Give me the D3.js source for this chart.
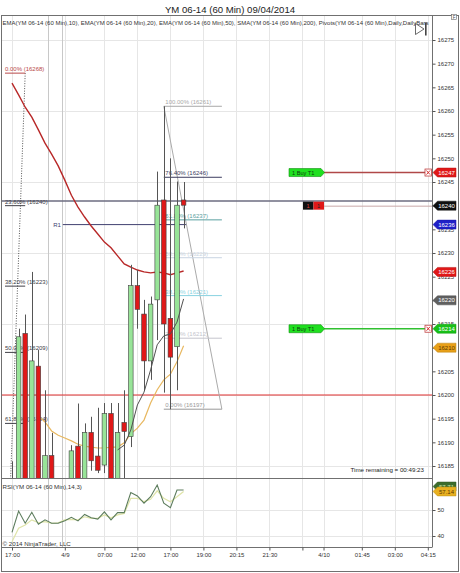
<html>
<script src='https://d3js.org/d3.v7.min.js'></script>
<style>
  body { margin: 0; background: #fff; }
  text { font-family: "Liberation Sans", Arial, sans-serif; }
</style>
<body>
<svg width=460 height=573></svg>
<script>
// ---- data ----
var open  = [16176, 16179, 16213, 16180, 16206.1, 16178, 16187.2, 16179, 16175, 16179, 16189.2, 16180, 16192.1, 16187.1, 16185.2, 16196.1, 16181, 16194.2, 16191.2, 16223.1, 16217.1, 16207.2, 16220.1, 16241.2, 16216.2, 16210.2, 16241.2];
var high  = [16186, 16214, 16217, 16226, 16209.5, 16201, 16192, 16181, 16180, 16189.4, 16198.2, 16194, 16195.4, 16197.3, 16198.3, 16198.3, 16198.3, 16201, 16227.5, 16226.4, 16220.1, 16220.8, 16247.2, 16261, 16250, 16245.1, 16245];
var low   = [16172, 16176, 16176, 16178, 16176, 16175, 16176, 16172, 16170, 16176, 16178, 16178, 16184, 16183.5, 16183.5, 16180, 16179, 16180, 16189, 16214, 16201, 16203.2, 16211.6, 16200.5, 16197, 16201, 16235.2];
var close = [16180, 16212.3, 16180, 16207.2, 16178, 16187.2, 16179, 16175, 16178, 16188.2, 16180, 16192.1, 16186.1, 16184.1, 16196.1, 16182, 16192.1, 16192.3, 16223.1, 16218.1, 16207.2, 16219.2, 16240.1, 16215, 16208, 16240.1, 16240.1];

var ema50 = [16265.9, 16263.4, 16260.8, 16258.7, 16256.0, 16253.2, 16250.9, 16248.4, 16245.4, 16242.2, 16239.7, 16237.6, 16235.7, 16234.0, 16232.3, 16231.1, 16229.4, 16227.7, 16227.0, 16226.4, 16226.0, 16225.8, 16226.0, 16225.8, 16225.4, 16225.8, 16226.2];
var ema20Start = 4;
var ema20 = [16195.6, 16194.3, 16192.4, 16191.5, 16190.9, 16190.3, 16189.6, 16189.2, 16189.0, 16188.8, 16188.8, 16189.0, 16189.0, 16189.9, 16191.8, 16193.0, 16194.7, 16198.3, 16201.1, 16203.2, 16204.4, 16207.0, 16210.4];
var ema10Start = 16;
var ema10 = [16188.4, 16189.4, 16192.6, 16197.9, 16200.6, 16205.3, 16210.6, 16212.5, 16212.9, 16215.4, 16220.3];

var rsi       = [41.4, 49.6, 44.9, 49.1, 44.5, 46.2, 44.9, 44.9, 45.9, 47.2, 45.8, 48.3, 47.0, 46.5, 49.3, 46.2, 49.0, 49.0, 56.7, 55.4, 52.6, 55.1, 59.6, 52.6, 50.9, 57.7, 57.7];
var rsiSmooth = [37.8, 43.0, 44.2, 46.2, 45.1, 45.5, 44.9, 45.1, 46.2, 46.4, 46.2, 47.4, 46.8, 46.8, 48.1, 47.0, 48.1, 48.7, 54.5, 54.5, 53.2, 54.1, 57.4, 54.5, 53.2, 55.1, 57.1];

var timeLabels = ["17:00", "4/9", "07:00", "12:00", "17:00", "19:00", "20:15", "21:30", "", "4/10", "01:45", "03:00", "04:15"];
var timeIdx    = [0, 8, 14, 19, 24, 29, 34, 39, 44, 47.2, 53, 58, 63];

// left fibonacci retracement
var fibLeftPct    = ["0.00%", "23.60%", "38.20%", "50.00%", "61.80%"];
var fibLeftPrice  = [16268, 16240, 16223, 16209, 16194];
var fibLeftColor  = ["#b84848", "#404048", "#404048", "#404048", "#404048"];
// right fibonacci retracement
var fibRightPct   = ["100.00%", "76.40%", "61.80%", "50.00%", "38.20%", "23.60%", "0.00%"];
var fibRightPrice = [16261, 16246, 16237, 16229, 16221, 16212, 16197];
var fibRightColor = ["#a8a8a8", "#3c3c60", "#5aa0a0", "#c8d4e2", "#88d2e0", "#c4c4cc", "#999999"];

// price axis markers
var markerPrice = [16247, 16240, 16236, 16226, 16220, 16214, 16210];
var markerText  = ["16247", "16240", "16236", "16226", "16220", "16214", "16210"];
var markerColor = ["#e01818", "#101010", "#2020c8", "#e01818", "#606060", "#18c018", "#e8a018"];

var orderPrice = [16247, 16214];
var orderText  = ["1  Buy T1", "1  Buy T1"];
var orderLine  = ["#b04848", "#30c030"];

// ---- scales ----
var x  = d3.scaleLinear().domain([0, 63]).range([12, 427.8]);
var y  = d3.scaleLinear().domain([16185, 16275]).range([466, 40]);
var yR = d3.scaleLinear().domain([40, 50]).range([536, 510]);

var L = 2, R = 432, T = 15.5, B = 478, RB = 547;
var svg = d3.select('svg');

// clip for main panel
svg.append('defs').append('clipPath').attr('id', 'mainclip')
  .append('rect').attr('x', L).attr('y', T).attr('width', R - L).attr('height', B - T);
svg.select('defs').append('clipPath').attr('id', 'rsiclip')
  .append('rect').attr('x', L).attr('y', B).attr('width', R - L).attr('height', RB - B);

// title
svg.append('text').attr('x', 230).attr('y', 12.5).attr('text-anchor', 'middle')
  .style('font-size', '9.6px').attr('fill', '#222').text('YM 06-14 (60 Min)  09/04/2014');

// grid
var grid = svg.append('g').attr('stroke', '#e6e6e6').attr('stroke-width', 1);
d3.range(16185, 16276, 15).forEach(function(p) {
  grid.append('line').attr('x1', L).attr('x2', R).attr('y1', Math.round(y(p)) + 0.5).attr('y2', Math.round(y(p)) + 0.5);
});
[40, 50].forEach(function(v) {
  grid.append('line').attr('x1', L).attr('x2', R).attr('y1', Math.round(yR(v)) + 0.5).attr('y2', Math.round(yR(v)) + 0.5);
});
timeIdx.forEach(function(i) {
  grid.append('line').attr('x1', Math.round(x(i)) + 0.5).attr('x2', Math.round(x(i)) + 0.5).attr('y1', T).attr('y2', RB);
});
// session break lines
[5, 7 ].forEach(function(i) {
  svg.append('line').attr('x1', Math.round(x(i + 0.5)) + 0.5).attr('x2', Math.round(x(i + 0.5)) + 0.5)
    .attr('y1', T).attr('y2', RB).attr('stroke', '#c8c8c8');
});

var main = svg.append('g').attr('clip-path', 'url(#mainclip)');

// long horizontal lines
main.append('line').attr('x1', L).attr('x2', R).attr('y1', y(16241)).attr('y2', y(16241))
  .attr('stroke', '#6c6c80').attr('stroke-width', 1.5);
main.append('line').attr('x1', L).attr('x2', R).attr('y1', y(16200)).attr('y2', y(16200))
  .attr('stroke', '#e03030').attr('stroke-width', 1.2);

// pivot R1
main.append('line').attr('x1', x(7.7)).attr('x2', x(26.5)).attr('y1', y(16236)).attr('y2', y(16236))
  .attr('stroke', '#404070').attr('stroke-width', 1);
main.append('text').attr('x', x(7.7) - 2).attr('y', y(16236) + 2).attr('text-anchor', 'end')
  .style('font-size', '6px').attr('fill', '#404070').text('R1');

// left fib
main.append('line').attr('x1', x(2)).attr('y1', y(16268)).attr('x2', x(-1.06)).attr('y2', y(16149.4))
  .attr('stroke', '#555').attr('stroke-dasharray', '1,1.5');
fibLeftPrice.forEach(function(p, k) {
  main.append('line').attr('x1', x(-1.06)).attr('x2', x(2)).attr('y1', y(p)).attr('y2', y(p))
    .attr('stroke', fibLeftColor[k]).attr('stroke-width', 1);
  main.append('text').attr('x', x(-1.06)).attr('y', y(p) - 2).style('font-size', '6px')
    .attr('fill', fibLeftColor[k]).text(fibLeftPct[k] + ' (' + p + ')');
});

// right fib
main.append('line').attr('x1', x(23)).attr('y1', y(16261)).attr('x2', x(31.8)).attr('y2', y(16197))
  .attr('stroke', '#aaa');
fibRightPrice.forEach(function(p, k) {
  main.append('line').attr('x1', x(23)).attr('x2', x(31.8)).attr('y1', y(p)).attr('y2', y(p))
    .attr('stroke', fibRightColor[k]).attr('stroke-width', 1);
  main.append('text').attr('x', x(23) + 1.5).attr('y', y(p) - 2).style('font-size', '6px')
    .attr('fill', fibRightColor[k]).text(fibRightPct[k] + ' (' + p + ')');
});

// moving averages
var line = d3.line().x(function(d) { return x(d[0]); }).y(function(d) { return y(d[1]); });
main.append('path').attr('d', line(ema50.map(function(v, i) { return [i, v]; })))
  .attr('fill', 'none').attr('stroke', '#b82828').attr('stroke-width', 1.4);
main.append('path').attr('d', line(ema20.map(function(v, i) { return [i + ema20Start, v]; })))
  .attr('fill', 'none').attr('stroke', '#e8b860').attr('stroke-width', 1.2);

// candles
var bw = 4.6;
var candles = main.append('g').selectAll('g').data(open).enter().append('g');
candles.append('line')
  .attr('x1', function(d, i) { return Math.round(x(i)) + 0.5; })
  .attr('x2', function(d, i) { return Math.round(x(i)) + 0.5; })
  .attr('y1', function(d, i) { return y(high[i]); })
  .attr('y2', function(d, i) { return y(low[i]); })
  .attr('stroke', '#555').attr('stroke-width', 1);
candles.append('rect')
  .attr('x', function(d, i) { return x(i) - bw / 2; })
  .attr('y', function(d, i) { return y(Math.max(open[i], close[i])); })
  .attr('width', bw)
  .attr('height', function(d, i) { return Math.max(1.5, Math.abs(y(open[i]) - y(close[i]))); })
  .attr('fill', function(d, i) { return close[i] >= open[i] ? '#98e498' : '#e01818'; })
  .attr('stroke', '#404040').attr('stroke-width', 0.6);

main.append('path').attr('d', line(ema10.map(function(v, i) { return [i + ema10Start, v]; })))
  .attr('fill', 'none').attr('stroke', '#505050').attr('stroke-width', 1);

// orders
orderPrice.forEach(function(p, k) {
  var yy = y(p);
  svg.append('line').attr('x1', 324).attr('x2', 425).attr('y1', yy).attr('y2', yy)
    .attr('stroke', orderLine[k]).attr('stroke-width', 1.4);
  svg.append('path').attr('d', 'M289,' + (yy - 4) + 'H321L324.5,' + yy + 'L321,' + (yy + 4) + 'H289Z')
    .attr('fill', '#20e020').attr('stroke', '#109010').attr('stroke-width', 0.6);
  svg.append('text').attr('x', 292).attr('y', yy + 2).style('font-size', '5.6px').attr('fill', '#104010').text(orderText[k]);
  svg.append('rect').attr('x', 425).attr('y', yy - 3.5).attr('width', 6.5).attr('height', 7)
    .attr('fill', '#fff').attr('stroke', '#c04040').attr('stroke-width', 0.8);
  svg.append('path').attr('d', 'M426.5,' + (yy - 2) + 'L430,' + (yy + 2) + 'M430,' + (yy - 2) + 'L426.5,' + (yy + 2))
    .attr('stroke', '#d02020').attr('stroke-width', 0.9);
});
// position
var py = y(16240);
svg.append('line').attr('x1', 324).attr('x2', R).attr('y1', py + 0.5).attr('y2', py + 0.5).attr('stroke', '#c8a8a8');
svg.append('rect').attr('x', 303).attr('y', py - 4).attr('width', 10.5).attr('height', 8).attr('fill', '#111');
svg.append('rect').attr('x', 313.5).attr('y', py - 4).attr('width', 10.5).attr('height', 8).attr('fill', '#e01818');
svg.append('text').attr('x', 308).attr('y', py + 2).attr('text-anchor', 'middle').style('font-size', '5.6px').attr('fill', '#e04040').text('1');
svg.append('text').attr('x', 318.5).attr('y', py + 2).attr('text-anchor', 'middle').style('font-size', '5.6px').attr('fill', '#222').text('1');

// RSI
var rsiG = svg.append('g').attr('clip-path', 'url(#rsiclip)');
var rline = d3.line().x(function(d, i) { return x(i); }).y(function(d) { return yR(d); });
rsiG.append('path').attr('d', rline(rsiSmooth)).attr('fill', 'none').attr('stroke', '#dfe4a8').attr('stroke-width', 1.2);
rsiG.append('path').attr('d', rline(rsi)).attr('fill', 'none').attr('stroke', '#5c7c5c').attr('stroke-width', 1.1);

// frame and panel lines
var fr = svg.append('g').attr('stroke', '#707070').attr('fill', 'none');
fr.append('rect').attr('x', 1.5).attr('y', 15.5).attr('width', 457).attr('height', 556);
fr.append('line').attr('x1', 1.5).attr('x2', R).attr('y1', B + 0.5).attr('y2', B + 0.5);
fr.append('line').attr('x1', 1.5).attr('x2', R).attr('y1', RB + 0.5).attr('y2', RB + 0.5);
fr.append('line').attr('x1', R + 0.5).attr('x2', R + 0.5).attr('y1', 15.5).attr('y2', RB + 0.5);

// axes
var yAxis = svg.append('g').attr('transform', 'translate(' + (R + 0.5) + ',0)')
  .call(d3.axisRight(y).tickValues(d3.range(16185, 16276, 5)).tickSize(3).tickPadding(2).tickFormat(d3.format('d')));
var rAxis = svg.append('g').attr('transform', 'translate(' + (R + 0.5) + ',0)')
  .call(d3.axisRight(yR).tickValues([40, 50]).tickSize(3).tickPadding(2));
var xAxis = svg.append('g').attr('transform', 'translate(0,' + (RB + 0.5) + ')')
  .call(d3.axisBottom(x).tickValues(timeIdx).tickSize(3).tickPadding(2)
    .tickFormat(function(d, k) { return timeLabels[k]; }));
[yAxis, rAxis, xAxis].forEach(function(a) {
  a.select('.domain').remove();
  a.selectAll('line').attr('stroke', '#555');
  a.selectAll('text').style('font-size', '6px').attr('fill', '#333')
    .style('font-family', '"Liberation Sans", Arial, sans-serif');
});

// price markers on the axis
function flag(yy, fill, label, txt) {
  svg.append('path').attr('d', 'M433,' + yy + 'L437.5,' + (yy - 4.5) + 'H456V' + (yy + 4.5) + 'H437.5Z')
    .attr('fill', fill).attr('stroke', d3.color(fill).darker(0.6)).attr('stroke-width', 0.5);
  svg.append('text').attr('x', 446.5).attr('y', yy + 2.1).attr('text-anchor', 'middle')
    .style('font-size', '6px').attr('fill', txt).text(label);
}
markerPrice.forEach(function(p, k) {
  flag(y(p), markerColor[k], markerText[k], markerColor[k] === '#e8a018' ? '#603800' : '#fff');
});
flag(486.5, '#3c6c2c', '57.71', '#cfe8b0');
flag(yR(57.14), '#e8b020', '57.14', '#603800');

// texts
svg.append('text').attr('x', 2.5).attr('y', 24.5).attr('textLength', 426).attr('lengthAdjust', 'spacingAndGlyphs')
  .style('font-size', '6px').attr('fill', '#333')
  .text('EMA(YM 06-14 (60 Min),10), EMA(YM 06-14 (60 Min),20), EMA(YM 06-14 (60 Min),50), SMA(YM 06-14 (60 Min),200), Pivots(YM 06-14 (60 Min),Daily,DailyBars');
svg.append('text').attr('x', 424).attr('y', 472).attr('text-anchor', 'end').style('font-size', '6.2px')
  .attr('fill', '#222').text('Time remaining = 00:49:23');
svg.append('text').attr('x', 2.5).attr('y', 489).style('font-size', '6.2px').attr('fill', '#333')
  .text('RSI(YM 06-14 (60 Min),14,3)');
svg.append('text').attr('x', 2.5).attr('y', 545.5).style('font-size', '6.2px').attr('fill', '#333')
  .text('\u00a9 2014 NinjaTrader, LLC');

// scroll-to-end icon and F box
svg.append('path').attr('d', 'M415.5,23.5L424,29L415.5,34.5Z').attr('fill', '#fff').attr('stroke', '#444').attr('stroke-width', 0.8);
svg.append('rect').attr('x', 425).attr('y', 22.5).attr('width', 1.6).attr('height', 13).attr('fill', '#444');
svg.append('rect').attr('x', 451.5).attr('y', 14.5).attr('width', 5).attr('height', 5).attr('fill', '#fff').attr('stroke', '#666').attr('stroke-width', 0.6);
svg.append('text').attr('x', 454).attr('y', 18.8).attr('text-anchor', 'middle').style('font-size', '4.5px').attr('fill', '#444').text('F');
</script>
</body>
</html>
